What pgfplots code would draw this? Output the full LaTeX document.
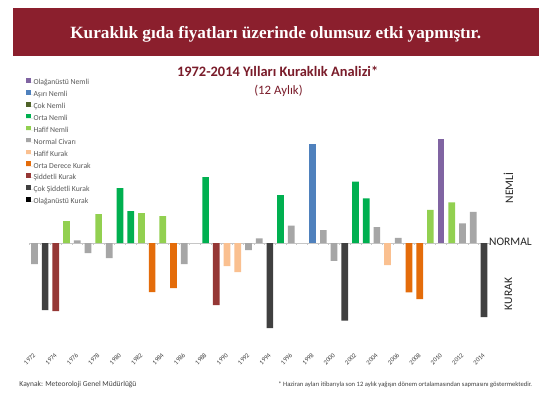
\documentclass[border=0pt]{standalone}
\usepackage{pgfplots}
\pgfplotsset{compat=1.18}
\usepackage{fontspec}
\setmainfont{Carlito}
\newfontfamily\bannerfont{Liberation Serif}
\definecolor{banner}{RGB}{139,31,45}
\definecolor{titlered}{RGB}{122,28,42}
\definecolor{cPurple}{HTML}{8064A2}
\definecolor{cBlue}{HTML}{4F81BD}
\definecolor{cOlive}{HTML}{4F6228}
\definecolor{cGreen}{HTML}{00B050}
\definecolor{cLgreen}{HTML}{92D050}
\definecolor{cGray}{HTML}{A6A6A6}
\definecolor{cPeach}{HTML}{FAC090}
\definecolor{cOrange}{HTML}{E46C0A}
\definecolor{cDred}{HTML}{953735}
\definecolor{cDgray}{HTML}{404040}
\definecolor{cBlack}{HTML}{000000}
\definecolor{txt}{HTML}{404040}
\definecolor{legtxt}{HTML}{595959}
\begin{document}
\begin{tikzpicture}[x=1pt,y=1pt]
\useasboundingbox[fill=white] (0,0) rectangle (550,399);
\fill[banner] (12.6,342.9) rectangle (539,391.3);
\node[text=white, font=\bannerfont\bfseries\fontsize{17.2}{20}\selectfont] at (275.7,365) {Kuraklık gıda fiyatları üzerinde olumsuz etki yapmıştır.};
\node[text=titlered, font=\bfseries\fontsize{14.4}{16}\selectfont] at (277.6,327.2) {1972-2014 Yılları Kuraklık Analizi*};
\node[text=titlered, font=\fontsize{12.8}{14}\selectfont] at (278.5,308.2) {(12 Aylık)};
\begin{axis}[
  at={(27.15,55.8)}, anchor=south west,
  scale only axis, width=460.2pt, height=208pt,
  xmin=-0.5, xmax=42.5, ymin=-100, ymax=108,
  hide y axis,
  axis x line*=bottom,
  x axis line style={draw=none},
  major tick length=0pt,
  xtick={0,2,...,42},
  xticklabels={1972,1974,1976,1978,1980,1982,1984,1986,1988,1990,1992,1994,1996,1998,2000,2002,2004,2006,2008,2010,2012,2014},
  xticklabel style={yshift=-11pt, rotate=45, anchor=east, inner sep=0pt, font=\fontsize{6.5}{7}\selectfont, text=txt},
  ybar, bar width=6.7pt,
  legend image code/.code={\fill[#1] (0pt,0pt) rectangle (4.6pt,4.6pt); \path (0pt,0pt) -- (7.5pt,0pt);},
  legend cell align=left,
  legend style={at={(axis description cs:-0.007,1.275)}, anchor=north west, draw=none, fill=none,
    font=\fontsize{7.7}{8}\selectfont, text=legtxt, inner sep=0pt, row sep=3.8pt,
    nodes={inner sep=0pt, text height=5.5pt, text depth=1.5pt}},
  clip=false,
]
\draw[gray!45, line width=0.6pt] (axis cs:-0.5,0) -- (axis cs:42.5,0);
\pgfplotsinvokeforeach{-0.5,0.5,...,42.5}{\draw[gray!45, line width=0.5pt] (axis cs:#1,0) -- ++(0pt,-2.2pt);}
\addplot[fill=cPurple, draw=none, bar shift=0pt] coordinates {(38,104)};
\addlegendentry{Olağanüstü Nemli}
\addplot[fill=cBlue, draw=none, bar shift=0pt] coordinates {(26,99)};
\addlegendentry{Aşırı Nemli}
\addlegendimage{fill=cOlive, draw=none}
\addlegendentry{Çok Nemli}
\addplot[fill=cGreen, draw=none, bar shift=0pt] coordinates {(8,55) (9,32) (16,66) (23,48) (30,61.5) (31,44.7)};
\addlegendentry{Orta Nemli}
\addplot[fill=cLgreen, draw=none, bar shift=0pt] coordinates {(3,22) (6,29) (10,30) (12,27) (37,33.3) (39,40.7)};
\addlegendentry{Hafif Nemli}
\addplot[fill=cGray, draw=none, bar shift=0pt] coordinates {(0,-21) (4,2.7) (5,-10) (7,-15) (14,-21) (20,-7) (21,4.7) (24,17.5) (27,13) (28,-17.7) (32,16) (34,5.3) (40,19.7) (41,31.3)};
\addlegendentry{Normal Civarı}
\addplot[fill=cPeach, draw=none, bar shift=0pt] coordinates {(18,-23) (19,-29) (33,-22)};
\addlegendentry{Hafif Kurak}
\addplot[fill=cOrange, draw=none, bar shift=0pt] coordinates {(11,-49) (13,-45) (35,-49.3) (36,-56)};
\addlegendentry{Orta Derece Kurak}
\addplot[fill=cDred, draw=none, bar shift=0pt] coordinates {(2,-68) (17,-62)};
\addlegendentry{Şiddetli Kurak}
\addplot[fill=cDgray, draw=none, bar shift=0pt] coordinates {(1,-67) (22,-85) (29,-77.5) (42,-74)};
\addlegendentry{Çok Şiddetli Kurak}
\addlegendimage{fill=cBlack, draw=none}
\addlegendentry{Olağanüstü Kurak}
\end{axis}
\node[rotate=90, font=\fontsize{11.5}{13}\selectfont, text=black!85] at (508.5,211) {NEMLİ};
\node[anchor=west, inner sep=0pt, font=\fontsize{11.5}{13}\selectfont, text=black!85] at (489,157) {NORMAL};
\node[rotate=90, font=\fontsize{11.5}{13}\selectfont, text=black!85] at (508.5,105) {KURAK};
\node[anchor=west, inner sep=0pt, font=\fontsize{7.5}{8}\selectfont, text=txt] at (19.3,14.1) {Kaynak: Meteoroloji Genel Müdürlüğü};
\node[anchor=east, inner sep=0pt, font=\fontsize{6.6}{8}\selectfont, text=txt] at (532.4,14.1) {* Haziran ayları itibarıyla son 12 aylık yağışın dönem ortalamasından sapmasını göstermektedir.};
\end{tikzpicture}
\end{document}
